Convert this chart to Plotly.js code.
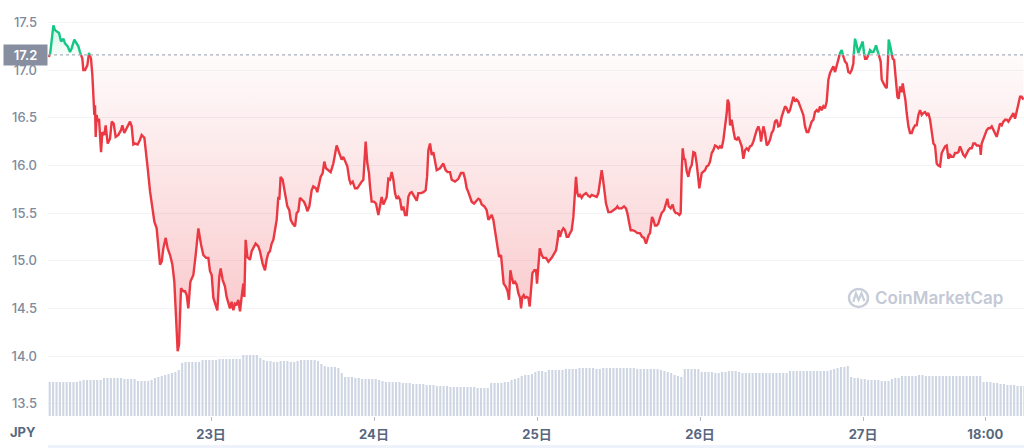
<!DOCTYPE html>
<html>
<head>
<meta charset="utf-8">
<script src="https://cdn.plot.ly/plotly-3.0.1.min.js"></script>
<style>html,body{margin:0;padding:0;background:#fff;}#chart{width:1024px;height:448px;}</style>
</head>
<body>
<div id="chart"></div>
<script>
// ---- DATA (hours since 22日 00:00, JPY price) ----
const refPrice = 17.16;
const refLabel = "17.2";
const currencyLabel = "JPY";
const tickHours = [24, 48, 72, 96, 120, 138];
const tickLabels = ["23日", "24日", "25日", "26日", "27日", "18:00"];
const priceTicks = [13.5, 14.0, 14.5, 15.0, 15.5, 16.0, 16.5, 17.0, 17.5];

const priceHours = [
0.05,0.30,0.79,1.03,1.42,1.62,1.92,2.26,2.50,2.90,
3.24,3.49,3.88,4.22,4.47,4.71,4.86,5.06,5.20,5.45,
5.79,6.04,6.33,6.53,6.68,6.82,6.92,7.02,7.17,7.31,
7.51,7.66,7.81,8.00,8.30,8.49,8.79,9.13,9.38,9.67,
9.96,10.36,10.75,10.95,11.24,11.58,11.83,12.08,12.32,12.57,
12.81,13.20,13.55,13.79,14.19,14.38,14.68,15.02,15.27,15.66,
16.00,16.25,16.49,16.74,16.98,17.33,17.62,17.97,18.31,18.60,
18.80,19.09,19.29,19.58,19.93,20.17,20.42,20.66,20.96,21.16,
21.40,21.74,22.14,22.53,22.87,23.27,23.61,23.85,24.10,24.35,
24.59,24.93,25.22,25.42,25.71,26.06,26.30,26.55,26.79,27.04,
27.29,27.53,27.78,28.02,28.27,28.51,28.76,28.91,29.10,29.35,
29.74,29.99,30.23,30.57,30.97,31.21,31.60,31.95,32.19,32.44,
32.68,32.93,33.18,33.42,33.67,33.91,34.06,34.25,34.55,34.89,
35.24,35.53,35.73,36.02,36.37,36.61,36.86,37.10,37.35,37.69,
37.99,38.18,38.48,38.82,39.06,39.46,39.65,39.95,40.14,40.44,
40.68,40.93,41.27,41.62,42.01,42.50,42.89,43.24,43.48,43.73,
44.07,44.37,44.56,44.86,45.20,45.54,45.84,46.18,46.43,46.57,
46.77,47.02,47.26,47.41,47.65,48.00,48.29,48.64,
48.89,49.13,49.38,49.62,49.87,50.11,50.36,50.60,50.85,51.09,
51.34,51.59,51.83,52.08,52.32,52.57,52.81,53.06,53.30,53.55,
53.79,54.04,54.29,54.53,54.92,55.27,55.61,55.81,56.00,56.25,
56.49,56.74,56.98,57.23,57.72,58.21,58.55,58.85,59.19,59.44,
59.93,60.17,60.42,60.81,61.16,61.40,61.65,61.89,62.14,62.38,
62.73,63.02,63.36,63.61,63.86,64.25,64.59,64.84,65.08,65.33,
65.57,65.92,66.21,66.41,66.70,66.90,67.09,67.39,67.68,67.88,
68.08,68.27,68.52,68.76,69.01,69.25,69.50,69.65,69.84,70.04,
70.24,70.48,70.73,70.92,71.12,71.32,71.61,71.86,72.00,72.20,72.40,
72.69,72.93,73.32,73.67,74.16,74.50,74.80,75.04,75.19,75.38,
75.63,75.88,76.12,76.37,76.61,76.86,77.10,77.35,77.54,77.74,
77.94,78.13,78.33,78.57,78.82,79.21,79.56,79.80,80.05,80.54,
80.78,81.03,81.27,81.52,81.67,81.86,82.16,82.50,82.85,83.24,
83.63,83.83,84.02,84.46,84.81,85.10,85.30,85.59,85.79,86.08,
86.43,86.77,87.16,87.46,87.75,88.05,88.24,88.44,88.64,88.93,
89.13,89.37,89.62,89.86,90.11,90.35,90.70,90.99,91.19,91.39,
91.68,91.97,92.17,92.42,92.66,92.96,93.15,93.30,93.45,93.64,
93.79,94.04,94.28,94.53,94.77,95.02,95.26,95.51,95.70,95.90,
96.25,96.49,96.74,96.98,97.23,97.47,97.72,97.96,98.21,98.45,
98.70,98.94,99.19,99.44,99.68,99.93,100.07,100.27,100.42,100.66,
100.91,101.15,101.40,101.64,101.89,102.14,102.38,102.63,102.87,103.12,
103.36,103.61,103.85,104.10,104.34,104.59,104.83,104.98,105.18,105.33,
105.57,105.82,106.06,106.31,106.55,106.80,107.04,107.29,107.53,107.78,
108.02,108.27,108.52,108.76,109.01,109.25,109.50,109.74,109.99,110.23,
110.48,110.72,110.97,111.21,111.46,111.71,111.95,112.20,112.44,112.69,
112.93,113.18,113.42,113.67,113.91,114.16,114.40,114.65,114.90,115.14,
115.39,115.63,115.88,116.12,116.37,116.61,116.86,117.10,117.35,117.60,
117.84,118.09,118.33,118.58,118.68,118.82,119.07,119.31,119.56,
119.95,120.15,120.30,120.54,120.79,121.03,121.28,121.52,121.77,121.92,
122.11,122.41,122.60,122.75,122.99,123.24,123.49,123.63,123.78,123.98,
124.22,124.37,124.57,124.86,125.06,125.25,125.45,125.69,125.84,126.04,
126.23,126.43,126.68,126.92,127.17,127.41,127.66,127.90,128.15,128.39,
128.64,128.89,129.13,129.38,129.62,129.87,130.11,130.36,130.60,130.85,
131.09,131.34,131.58,131.83,132.08,132.32,132.57,132.81,133.06,133.30,
133.55,133.79,134.04,134.28,134.53,134.77,135.02,135.27,135.51,135.76,
136.00,136.25,136.49,136.74,136.98,137.23,137.33,137.47,137.72,137.97,
138.21,138.46,138.70,138.95,139.19,139.44,139.68,139.93,140.17,140.42,
140.66,140.91,141.16,141.40,141.65,141.89,142.14,142.38,142.63,142.87,
143.12,143.36,143.61
];

const prices = [
17.14,17.16,17.47,17.42,17.40,17.39,17.30,17.33,17.28,17.25,
17.19,17.23,17.32,17.28,17.25,17.19,17.16,17.12,17.00,17.00,
17.05,17.18,17.12,16.95,16.70,16.53,16.63,16.30,16.53,16.46,
16.49,16.32,16.14,16.35,16.32,16.42,16.23,16.28,16.46,16.44,
16.30,16.32,16.37,16.42,16.34,16.39,16.42,16.46,16.41,16.22,
16.23,16.22,16.27,16.32,16.29,16.18,15.97,15.73,15.59,15.41,
15.34,15.17,14.96,14.99,15.13,15.24,15.13,15.06,14.96,14.78,
14.43,14.05,14.12,14.71,14.68,14.68,14.64,14.50,14.78,14.82,
14.85,15.06,15.34,15.17,15.06,15.03,15.03,14.89,14.85,14.61,
14.55,14.48,14.83,14.92,14.80,14.73,14.62,14.55,14.50,14.57,
14.48,14.55,14.54,14.59,14.47,14.62,14.76,14.62,15.22,15.04,
15.01,15.10,15.13,15.18,15.15,15.10,14.97,14.90,15.01,15.08,
15.10,15.18,15.22,15.32,15.43,15.67,15.64,15.88,15.85,15.71,
15.57,15.53,15.43,15.39,15.36,15.50,15.52,15.66,15.64,15.62,
15.57,15.52,15.57,15.74,15.78,15.76,15.72,15.81,15.88,15.92,
16.04,15.97,15.95,15.93,16.02,16.21,16.13,16.06,16.09,16.04,
15.99,15.85,15.81,15.83,15.76,15.76,15.80,15.83,15.85,16.09,
16.25,16.02,15.92,15.78,15.62,15.62,15.60,15.48,
15.57,15.67,15.59,15.64,15.67,15.86,15.85,15.93,15.85,15.71,
15.65,15.67,15.64,15.53,15.57,15.48,15.48,15.67,15.71,15.72,
15.69,15.65,15.63,15.71,15.71,15.72,15.74,15.88,16.16,16.23,
16.11,16.14,16.06,15.95,15.97,16.02,15.95,15.93,15.93,15.85,
15.83,15.85,15.86,15.92,15.92,15.86,15.76,15.72,15.67,15.62,
15.60,15.62,15.65,15.64,15.59,15.57,15.53,15.43,15.45,15.48,
15.43,15.25,15.11,15.04,15.06,14.94,14.76,14.73,14.68,14.59,
14.90,14.83,14.76,14.78,14.75,14.66,14.61,14.50,14.62,14.64,
14.61,14.62,14.61,14.52,14.69,14.87,14.90,14.90,14.76,14.97,15.13,
15.06,15.03,15.03,14.99,15.03,15.08,15.11,15.22,15.32,15.25,
15.31,15.34,15.32,15.25,15.25,15.29,15.32,15.46,15.64,15.88,
15.71,15.67,15.69,15.66,15.69,15.71,15.68,15.67,15.69,15.68,
15.67,15.71,15.85,15.95,15.88,15.74,15.60,15.51,15.51,15.53,
15.55,15.57,15.55,15.55,15.57,15.55,15.50,15.39,15.32,15.32,
15.31,15.29,15.29,15.25,15.24,15.18,15.24,15.27,15.29,15.46,
15.43,15.37,15.37,15.39,15.45,15.50,15.53,15.59,15.65,15.57,
15.55,15.59,15.53,15.50,15.50,15.48,15.50,15.92,16.18,16.06,
16.07,15.94,15.88,15.97,16.00,16.14,16.13,16.02,15.88,15.76,
15.92,15.94,15.95,15.99,16.00,16.04,16.13,16.16,16.21,16.20,
16.18,16.20,16.18,16.27,16.39,16.55,16.69,16.65,16.42,16.48,
16.37,16.28,16.27,16.30,16.25,16.20,16.07,16.16,16.18,16.16,
16.20,16.21,16.25,16.32,16.37,16.41,16.35,16.25,16.34,16.41,
16.34,16.21,16.23,16.27,16.34,16.37,16.46,16.48,16.41,16.42,
16.51,16.58,16.62,16.60,16.55,16.58,16.67,16.72,16.67,16.69,
16.67,16.63,16.58,16.53,16.41,16.35,16.35,16.41,16.46,16.48,
16.56,16.58,16.56,16.62,16.58,16.62,16.60,16.67,16.90,16.97,
17.00,17.04,16.98,17.04,17.11,17.18,17.21,17.14,17.09,17.07,
16.98,16.97,17.00,17.07,17.25,17.33,17.26,17.18,17.23,
17.30,17.18,17.12,17.12,17.16,17.21,17.19,17.19,17.23,17.26,
17.21,17.14,17.09,16.90,16.86,16.83,16.81,17.00,17.32,17.26,
17.18,17.12,17.11,16.90,16.72,16.70,16.83,16.77,16.86,16.77,
16.69,16.55,16.41,16.34,16.34,16.39,16.42,16.42,16.53,16.58,
16.53,16.55,16.56,16.53,16.55,16.48,16.37,16.23,16.21,16.02,
16.00,15.99,16.13,16.16,16.20,16.21,16.07,16.11,16.09,16.09,
16.13,16.13,16.14,16.20,16.14,16.11,16.09,16.13,16.16,16.18,
16.18,16.23,16.23,16.21,16.21,16.20,16.11,16.23,16.28,16.34,
16.37,16.39,16.39,16.41,16.37,16.34,16.30,16.37,16.44,16.42,
16.46,16.48,16.48,16.46,16.49,16.53,16.55,16.49,16.56,16.63,
16.72,16.72,16.69
];

// Volume (relative units), one bar per 30 minutes from 22日 00:00
const volumeStepHours = 0.5;
const volumes = [
34,34,34,34,34,34,34,34,34,35,36,36,
36,36,36,36,38,38,38,38,38,38,37,37,
37,37,35,35,35,35,36,38,39,40,41,42,
43,44,46,53,54,54,54,54,54,56,56,56,
56,56,57,57,57,57,57,57,57,61,61,61,
61,61,58,56,55,55,54,54,55,55,55,54,
54,55,56,56,56,56,56,55,52,50,49,49,
49,48,43,39,39,39,38,38,37,37,37,37,
37,36,35,34,34,34,34,34,33,33,33,32,
32,32,32,31,31,31,30,30,30,30,29,29,
29,29,29,29,29,29,28,28,28,28,33,33,
33,33,34,34,36,37,38,40,41,41,42,44,
45,45,44,46,46,46,46,46,47,47,47,47,
48,48,48,48,48,47,47,48,48,48,48,48,
48,48,48,48,48,47,47,47,47,47,47,47,
46,45,44,43,41,40,39,47,47,47,47,47,
44,44,44,44,43,43,44,44,45,45,45,44,
43,43,43,43,43,43,43,43,43,43,43,43,
43,43,45,45,45,45,45,45,45,45,45,45,
45,45,46,47,48,49,49,50,39,38,38,37,
37,36,36,36,36,35,35,35,37,38,38,40,
40,40,40,40,41,41,40,40,40,40,40,40,
40,40,40,40,40,40,40,40,40,40,40,34,
34,34,33,33,32,32,31,31,31,30,30,30
];
const volumeAxisMax = 406;

// ---- derived drawing series ----
const n = Math.min(priceHours.length, prices.length);
const xs = [], ys = [];
for (let i = 0; i < n; i++) {
  if (i > 0) {
    const a = prices[i-1], b = prices[i];
    if ((a - refPrice) * (b - refPrice) < 0) {
      const t = (refPrice - a) / (b - a);
      xs.push(priceHours[i-1] + t * (priceHours[i] - priceHours[i-1]));
      ys.push(refPrice);
    }
  }
  xs.push(priceHours[i]); ys.push(prices[i]);
}
function segs(test) {
  const X = [], Y = [];
  let gap = false;
  for (let i = 0; i < xs.length; i++) {
    if (test(ys[i])) { X.push(xs[i]); Y.push(ys[i]); gap = false; }
    else if (!gap) { X.push(null); Y.push(null); gap = true; }
  }
  return {X, Y};
}
const eps = 1e-9;
const redSeg = segs(v => v <= refPrice + eps);
const greenSeg = segs(v => v >= refPrice - eps);
const refY = xs.map(() => refPrice);
const lowY = ys.map(v => Math.min(v, refPrice));
const highY = ys.map(v => Math.max(v, refPrice));
const volX = volumes.map((_, i) => (i + 0.5) * volumeStepHours);

const RED = '#ea3943', GREEN = '#16c784';
const FONT = 'Inter, "Noto Sans CJK JP", "Noto Sans", sans-serif';

const traces = [
  {type:'scatter', x: xs, y: refY, mode:'lines', line:{width:0, color:'rgba(0,0,0,0)'}, hoverinfo:'skip', showlegend:false},
  {type:'scatter', x: xs, y: lowY, mode:'none', fill:'tonexty',
   fillgradient:{type:'vertical', start:14.0, stop:refPrice,
     colorscale:[[0,'rgba(234,57,67,0.30)'],[1,'rgba(234,57,67,0.02)']]},
   hoverinfo:'skip', showlegend:false},
  {type:'scatter', x: xs, y: refY, mode:'lines', line:{width:0, color:'rgba(0,0,0,0)'}, hoverinfo:'skip', showlegend:false},
  {type:'scatter', x: xs, y: highY, mode:'none', fill:'tonexty',
   fillgradient:{type:'vertical', start:refPrice, stop:17.5,
     colorscale:[[0,'rgba(22,199,132,0.03)'],[1,'rgba(22,199,132,0.22)']]},
   hoverinfo:'skip', showlegend:false},
  {type:'scatter', x: redSeg.X, y: redSeg.Y, mode:'lines', connectgaps:false,
   line:{color:RED, width:2.4, shape:'linear'}, hoverinfo:'skip', showlegend:false},
  {type:'scatter', x: greenSeg.X, y: greenSeg.Y, mode:'lines', connectgaps:false,
   line:{color:GREEN, width:2.4, shape:'linear'}, hoverinfo:'skip', showlegend:false},
  {type:'bar', x: volX, y: volumes, yaxis:'y2', width: volumeStepHours*0.62,
   marker:{color:'#cfd6e3', line:{width:0}}, hoverinfo:'skip', showlegend:false}
];

const layout = {
  width: 1024, height: 448,
  margin: {l:48, r:0, t:10, b:32, pad:0},
  paper_bgcolor:'#ffffff', plot_bgcolor:'#ffffff',
  showlegend:false,
  font:{family:FONT},
  xaxis:{
    range:[0,143.7], tickmode:'array', tickvals:tickHours, ticktext:tickLabels,
    ticks:'outside', ticklen:4, tickwidth:1, tickcolor:'#b8bfcc',
    showgrid:false, zeroline:false, showline:false,
    tickfont:{family:FONT, size:13, color:'#58667e', weight:700},
    ticklabelstandoff:2, fixedrange:true
  },
  yaxis:{
    range:[13.371,17.631], tickmode:'array', tickvals:priceTicks,
    ticktext: priceTicks.map(v => v.toFixed(1)),
    showgrid:true, gridcolor:'#f2f4f7', gridwidth:1, zeroline:false, showline:false,
    ticks:'', tickfont:{family:FONT, size:13, color:'#808a9d', weight:500},
    ticklabelstandoff:10, fixedrange:true
  },
  yaxis2:{overlaying:'y', range:[0, volumeAxisMax], visible:false, fixedrange:true},
  shapes:[
    {type:'line', xref:'paper', x0:0, x1:1, yref:'y', y0:refPrice, y1:refPrice,
     line:{color:'#aab1bf', width:1.3, dash:'dot'}, layer:'above'},
    {type:'rect', xref:'paper', yref:'paper', x0:0, x1:1, y0:-0.0788, y1:-0.0714,
     fillcolor:'#eef2fa', line:{width:0}},
    {type:'circle', xref:'paper', yref:'paper', x0:0.8207, x1:0.8402, y0:0.2685, y1:0.3128,
     line:{color:'#c8ced9', width:2.4}, fillcolor:'rgba(0,0,0,0)'},
    {type:'path', xref:'paper', yref:'paper',
     path:'M 0.8250,0.2808 L 0.8278,0.3020 L 0.8305,0.2857 L 0.8335,0.3020 L 0.8365,0.2833',
     line:{color:'#c8ced9', width:2.2}}
  ],
  annotations:[
    {xref:'paper', yref:'y', x:0, y:refPrice, xanchor:'right', yanchor:'middle',
     text:refLabel, showarrow:false, bgcolor:'#878ea0', width:39, height:16, borderpad:2,
     font:{family:FONT, size:13, color:'#ffffff', weight:600}},
    {xref:'paper', yref:'paper', x:-0.0102, y:-0.0394, xanchor:'right', yanchor:'middle',
     text:currencyLabel, showarrow:false,
     font:{family:FONT, size:13, color:'#58667e', weight:700}},
    {xref:'paper', yref:'paper', x:0.8453, y:0.2906, xanchor:'left', yanchor:'middle',
     text:'CoinMarketCap', showarrow:false,
     font:{family:FONT, size:17, color:'#c3c9d5', weight:600}}
  ]
};

Plotly.newPlot('chart', traces, layout, {staticPlot:true, displayModeBar:false});
</script>
</body>
</html>
